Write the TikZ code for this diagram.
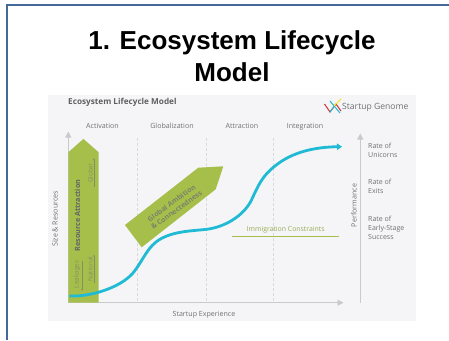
\documentclass[tikz,border=0pt]{standalone}
\usepackage{fontspec}
\setmainfont{Open Sans}
\newfontfamily\titlefont{Liberation Sans}
\usepackage{xcolor}
\usetikzlibrary{arrows.meta, positioning}
\definecolor{framecol}{HTML}{44689A}
\definecolor{panelcol}{HTML}{F5F5F7}
\definecolor{leafcol}{HTML}{A6BF4B}
\definecolor{curvecol}{HTML}{1FBAD3}
\definecolor{axiscol}{HTML}{C9CACC}
\definecolor{inkcol}{HTML}{6E7072}
\tikzset{
  axisline/.style={draw=axiscol, line width=0.7pt, -{Triangle[length=6pt,width=6pt,fill=axiscol]}},
  phaseline/.style={draw=axiscol!70, densely dashed, line width=0.5pt},
  phaselabel/.style={text=inkcol, font=\fontsize{7.1}{8}\selectfont},
  toplabel/.style={phaselabel, anchor=base},
  ratelabel/.style={text=inkcol, font=\fontsize{7}{8.9}\selectfont, align=left, anchor=west, inner sep=0pt},
  leaflabel/.style={text=leafcol!40!inkcol, font=\fontsize{6.3}{7}\selectfont, rotate=90, inner sep=0pt},
  leafarrow/.style={-{Stealth[length=2pt]}, draw=leafcol!40!inkcol, line width=0.3pt},
}
\begin{document}
\begin{tikzpicture}[x=1pt,y=-1pt]
    \useasboundingbox (0,0) rectangle (449,340);
    \fill[white] (0,0) rectangle (449,340);
    \draw[framecol, line width=1.8pt] (7.3,340) -- (7.3,4.8) -- (449,4.8);

    \node[font=\titlefont\bfseries\fontsize{26}{32}\selectfont, align=center] (title) at (232,56) {1. Ecosystem Lifecycle\\Model};

    \fill[panelcol] (48,94.7) rectangle (416,321);
    \node[anchor=west, inner sep=0pt, text=inkcol!85!black, font=\fontsize{8.2}{9}\bfseries\selectfont] (heading) at (68,102) {Ecosystem Lifecycle Model};

    % logo
    \draw[red!75!black!80, line width=1pt] (324.5,104) -- (330,112) -- (336,104) -- (341,111);
    \draw[curvecol, line width=1pt] (330,112) -- (335,105);
    \draw[curvecol, line width=1pt] (330,101) -- (340,113);
    \draw[yellow!80!orange, line width=1pt] (334,106) -- (341,99);
    \node[anchor=west, inner sep=0pt, text=inkcol, font=\fontsize{8.6}{9}\selectfont] (logo) at (342,107) {Startup Genome};

    % phases
    \node[toplabel] (activation) at (102.5,128.5) {Activation};
    \node[toplabel] (globalization) at (172,128.5) {Globalization};
    \node[toplabel] (attraction) at (242,128.5) {Attraction};
    \node[toplabel] (integration) at (305,128.5) {Integration};

    \coordinate (origin) at (68.3,302.7);
    \coordinate (ytip) at (68.3,131.5);
    \coordinate (xtip) at (343.5,302.7);
    \coordinate (pbase) at (360.3,302.7);
    \coordinate (ptip) at (360.3,133.5);
    \coordinate (d1) at (137.3,138); \coordinate (d1b) at (137.3,302);
    \coordinate (d2) at (206,138); \coordinate (d2b) at (206,302);
    \coordinate (d3) at (273.3,138); \coordinate (d3b) at (273.3,302);
    \draw[phaseline] (d1) -- (d1b);
    \draw[phaseline] (d2) -- (d2b);
    \draw[phaseline] (d3) -- (d3b);
    \draw[axisline] (origin) -- (ytip);
    \draw[axisline] (origin) -- (xtip);
    \draw[axisline] (pbase) -- (ptip);

    % green arrows
    \fill[leafcol] (68.3,302.7) -- (68.3,152.3) -- (83.4,138.9) -- (98.7,152.3) -- (98.7,302.7) -- cycle;
    \fill[leafcol] (125,225) -- (198.3,167.7) -- (223.3,166.3) -- (215.7,189.3) -- (141.7,247.3) -- cycle;

    \node[rotate=90, inner sep=0pt, text=inkcol!90!black, font=\fontsize{7.2}{8}\bfseries\selectfont] (resource) at (77.5,215.5) {Resource Attraction};
    \node[leaflabel] (leakages) at (77,274.5) {Leakages};
    \node[leaflabel] (national) at (90.3,269) {National};
    \node[leaflabel] (global) at (90.3,173.5) {Global};
    \coordinate (n1) at (94,283); \coordinate (n2) at (94,254.5);
    \coordinate (g1) at (94,187); \coordinate (g2) at (94,158);
    \coordinate (l1) at (82,261); \coordinate (l2) at (82,291);
    \draw[leafarrow] (n1) -- (n2);
    \draw[leafarrow] (g1) -- (g2);
    \draw[leafarrow] (l1) -- (l2);
    \node[rotate=36, inner sep=0pt, align=center, text=leafcol!25!inkcol, font=\fontsize{7.1}{8.4}\bfseries\selectfont] (ambition) at (174,206.5) {Global Ambition\\\& Connectedness};

    % curve
    \draw[curvecol, line width=2.8pt, -{Triangle[length=5pt,width=6.5pt]}] (69.3,296)
      .. controls (90,297) and (120,288) .. (133,273)
      .. controls (142,262) and (146,250) .. (156,242)
      .. controls (170,231) and (192,231) .. (206.7,229.3)
      .. controls (225,227) and (243,216) .. (251,201)
      .. controls (258,186) and (262,176) .. (275,166)
      .. controls (292,152) and (315,147) .. (342,146.7);

    % immigration
    \coordinate (imstart) at (232.3,236.3);
    \coordinate (imend) at (339.3,236.3);
    \draw[leafcol, line width=1pt] (imstart) -- (imend);
    \node[inner sep=0pt, text=leafcol!75!inkcol, font=\fontsize{6.9}{8}\selectfont] (immigration) at (285.7,229.3) {Immigration Constraints};

    % side labels
    \node[phaselabel, rotate=90, inner sep=0pt] (size) at (55,219) {Size \& Resources};
    \node[phaselabel, rotate=90, inner sep=0pt] (performance) at (354,205.5) {Performance};
    \node[phaselabel, inner sep=0pt] (experience) at (204,315) {Startup Experience};
    \node[ratelabel] (unicorns) at (368,150.5) {Rate of\\Unicorns};
    \node[ratelabel] (exits) at (368,186.5) {Rate of\\Exits};
    \node[ratelabel] (success) at (368,228) {Rate of\\Early-Stage\\Success};
\end{tikzpicture}
\end{document}
